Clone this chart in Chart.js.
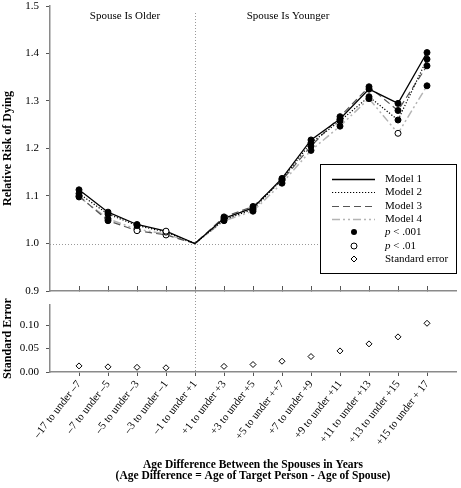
<!DOCTYPE html>
<html>
<head>
<meta charset="utf-8">
<script src="https://cdn.jsdelivr.net/npm/chart.js@4/dist/chart.umd.min.js"></script>
<style>
  body { margin: 0; background: #fff; }
  #wrap { position: relative; width: 461px; height: 488px; }
  canvas { position: absolute; left: 0; }
</style>
</head>
<body>
<div id="wrap">
  <canvas id="riskChart" width="461" height="298" style="top:0"></canvas>
  <canvas id="seChart" width="461" height="190" style="top:298px"></canvas>
</div>
<script>
const categories = ['–17 to under –7', '–7 to under –5', '–5 to under –3', '–3 to under –1',
    '–1 to under +1', '+1 to under +3', '+3 to under +5', '+5 to under ++7', '+7 to under +9',
    '+9 to under +11', '+11 to under +13', '+13 to under +15', '+15 to under + 17'];

// relative risk of dying, one array per model
const model1 = [1.113, 1.066, 1.040, 1.026, 1.000, 1.053, 1.075, 1.137, 1.218, 1.262, 1.325, 1.295, 1.402];
const model2 = [1.105, 1.062, 1.038, 1.024, 1.000, 1.050, 1.072, 1.135, 1.212, 1.258, 1.309, 1.260, 1.388];
const model3 = [1.100, 1.048, 1.027, 1.018, 1.000, 1.056, 1.078, 1.133, 1.205, 1.267, 1.330, 1.280, 1.374];
const model4 = [1.098, 1.052, 1.030, 1.020, 1.000, 1.048, 1.068, 1.127, 1.196, 1.247, 1.305, 1.232, 1.332];

// significance: 'a' = p < .001, 'b' = p < .01, null = reference category
const sig1 = ['a', 'a', 'a', 'b', null, 'a', 'a', 'a', 'a', 'a', 'a', 'a', 'a'];
const sig2 = ['a', 'a', 'a', 'b', null, 'a', 'a', 'a', 'a', 'a', 'a', 'a', 'a'];
const sig3 = ['a', 'a', 'b', 'b', null, 'a', 'a', 'a', 'a', 'a', 'a', 'a', 'a'];
const sig4 = ['a', 'a', 'b', 'b', null, 'a', 'a', 'a', 'a', 'a', 'a', 'b', 'a'];

// standard errors (Model 1)
const stdErr = [0.013, 0.011, 0.010, 0.009, null, 0.012, 0.016, 0.023, 0.033, 0.045, 0.060, 0.075, 0.104];

const riskTicks = [0.9, 1.0, 1.1, 1.2, 1.3, 1.4, 1.5];
const seTicks = [0.00, 0.05, 0.10];

Chart.defaults.font.family = "'Liberation Serif', 'DejaVu Serif', serif";
Chart.defaults.font.size = 11;
Chart.defaults.color = '#000';

const axisColor = '#8a8a8a';
const styles = [
    { label: 'Model 1', color: '#000', dash: [], width: 1.3 },
    { label: 'Model 2', color: '#000', dash: [1.2, 1.8], width: 1.2 },
    { label: 'Model 3', color: '#555', dash: [7, 4], width: 1.2 },
    { label: 'Model 4', color: '#b4b4b4', dash: [8, 3, 2, 3, 2, 3], width: 1.5 }
];

function points(vals) {
    return vals.map((v, i) => ({ x: i, y: v }));
}

function modelSet(vals, sig, st) {
    return {
        label: st.label,
        data: points(vals),
        borderColor: st.color,
        borderDash: st.dash,
        borderWidth: st.width,
        tension: 0,
        pointRadius: sig.map(s => s ? 3 : 0),
        pointBackgroundColor: sig.map(s => s === 'b' ? '#fff' : '#000'),
        pointBorderColor: '#000',
        pointBorderWidth: 1
    };
}

function xTicksOnly(scale) {
    scale.ticks = categories.map((c, i) => ({ value: i }));
}

// keep the plot area exactly where layout padding puts it
function noLabelPad(scale) {
    scale.paddingTop = 0;
    scale.paddingBottom = 0;
}

function dotted(ctx, x1, y1, x2, y2) {
    ctx.save();
    ctx.strokeStyle = '#999';
    ctx.lineWidth = 1;
    ctx.setLineDash([1, 2]);
    ctx.beginPath();
    ctx.moveTo(x1, y1);
    ctx.lineTo(x2, y2);
    ctx.stroke();
    ctx.restore();
}

const riskDecor = {
    id: 'riskDecor',
    beforeDatasetsDraw(chart) {
        const ctx = chart.ctx, a = chart.chartArea;
        const x = chart.scales.x, y = chart.scales.y;
        const y1 = Math.round(y.getPixelForValue(1)) + 0.5;
        const x4 = Math.round(x.getPixelForValue(4)) + 0.5;
        dotted(ctx, a.left, y1, a.right, y1);
        dotted(ctx, x4, 13, x4, chart.height);
    },
    afterDraw(chart) {
        const ctx = chart.ctx, a = chart.chartArea;
        ctx.save();
        ctx.fillStyle = '#000';
        ctx.font = "11px 'Liberation Serif'";
        ctx.textAlign = 'center';
        ctx.textBaseline = 'middle';
        ctx.fillText('Spouse Is Older', 125, 16);
        ctx.fillText('Spouse Is Younger', 288, 16);

        // legend box
        const bx = a.right - 136, by = 164, bw = 137, bh = 110;
        ctx.fillStyle = '#fff';
        ctx.fillRect(bx, by, bw, bh);
        ctx.strokeStyle = '#000';
        ctx.lineWidth = 1;
        ctx.strokeRect(bx + 0.5, by + 0.5, bw - 1, bh - 1);

        const rows = [179, 192, 206, 219, 232, 246, 259];
        const lx1 = bx + 12, lx2 = bx + 55, mx = bx + 34, tx = bx + 65;
        styles.forEach((st, i) => {
            ctx.save();
            ctx.strokeStyle = st.color;
            ctx.lineWidth = st.width;
            ctx.setLineDash(st.dash);
            ctx.beginPath();
            ctx.moveTo(lx1, rows[i] + 0.5);
            ctx.lineTo(lx2, rows[i] + 0.5);
            ctx.stroke();
            ctx.restore();
        });
        ctx.textAlign = 'left';
        ctx.fillStyle = '#000';
        styles.forEach((st, i) => ctx.fillText(st.label, tx, rows[i]));

        ctx.lineWidth = 1;
        ctx.beginPath();
        ctx.arc(mx, rows[4], 3, 0, Math.PI * 2);
        ctx.fillStyle = '#000';
        ctx.fill();
        ctx.beginPath();
        ctx.arc(mx, rows[5], 3, 0, Math.PI * 2);
        ctx.fillStyle = '#fff';
        ctx.fill();
        ctx.stroke();
        ctx.beginPath();
        ctx.moveTo(mx, rows[6] - 3);
        ctx.lineTo(mx + 3, rows[6]);
        ctx.lineTo(mx, rows[6] + 3);
        ctx.lineTo(mx - 3, rows[6]);
        ctx.closePath();
        ctx.fill();
        ctx.stroke();

        ctx.fillStyle = '#000';
        [[rows[4], ' < .001'], [rows[5], ' < .01']].forEach(r => {
            ctx.font = "italic 11px 'Liberation Serif'";
            ctx.fillText('p', tx, r[0]);
            const w = ctx.measureText('p').width;
            ctx.font = "11px 'Liberation Serif'";
            ctx.fillText(r[1], tx + w, r[0]);
        });
        ctx.fillText('Standard error', tx, rows[6]);
        ctx.restore();
    }
};

const seDecor = {
    id: 'seDecor',
    beforeDatasetsDraw(chart) {
        const a = chart.chartArea;
        const x4 = Math.round(chart.scales.x.getPixelForValue(4)) + 0.5;
        dotted(chart.ctx, x4, 0, x4, a.bottom);
    }
};

new Chart(document.getElementById('riskChart'), {
    type: 'line',
    data: {
        datasets: [
            modelSet(model1, sig1, styles[0]),
            modelSet(model2, sig2, styles[1]),
            modelSet(model3, sig3, styles[2]),
            modelSet(model4, sig4, styles[3])
        ]
    },
    options: {
        responsive: false,
        animation: false,
        layout: { padding: { top: 6, right: 3, left: 0, bottom: 0 } },
        plugins: { legend: { display: false }, tooltip: { enabled: false } },
        scales: {
            x: {
                type: 'linear',
                min: -1,
                max: 13,
                afterBuildTicks: xTicksOnly,
                afterFit: s => { s.height = 7; s.paddingLeft = 0; s.paddingRight = 0; },
                ticks: { display: false },
                grid: { drawOnChartArea: false, tickLength: -5, tickColor: '#555' },
                border: { color: axisColor, width: 1.5 }
            },
            y: {
                min: 0.9,
                max: 1.5,
                afterBuildTicks: s => { s.ticks = riskTicks.map(v => ({ value: v })); },
                afterFit: s => { s.width = 50; noLabelPad(s); },
                ticks: { padding: 7, callback: v => v.toFixed(1) },
                grid: { drawOnChartArea: false, tickLength: 4, tickColor: '#555' },
                border: { color: axisColor, width: 1.5 },
                title: {
                    display: true,
                    text: 'Relative Risk of Dying',
                    font: { size: 12, weight: 'bold' },
                    padding: { top: 1, bottom: 0 }
                }
            }
        }
    },
    plugins: [riskDecor]
});

new Chart(document.getElementById('seChart'), {
    type: 'line',
    data: {
        datasets: [{
            label: 'Standard error',
            data: points(stdErr),
            showLine: false,
            pointStyle: 'rectRot',
            pointRadius: 3,
            pointBackgroundColor: '#fff',
            pointBorderColor: '#000',
            pointBorderWidth: 1
        }]
    },
    options: {
        responsive: false,
        animation: false,
        layout: { padding: { top: 7, right: 3, left: 0, bottom: 0 } },
        plugins: { legend: { display: false }, tooltip: { enabled: false } },
        scales: {
            x: {
                type: 'linear',
                min: -1,
                max: 13,
                afterBuildTicks: xTicksOnly,
                afterFit: s => { s.height = 116; s.paddingLeft = 0; s.paddingRight = 0; },
                ticks: { autoSkip: false, minRotation: 52, maxRotation: 52, padding: 2, callback: v => categories[v] },
                grid: { drawOnChartArea: false, tickLength: 4, tickColor: '#555' },
                border: { color: axisColor, width: 1.5 },
                title: {
                    display: true,
                    text: ['Age Difference Between the Spouses in Years',
                        '(Age Difference = Age of Target Person - Age of Spouse)'],
                    font: { size: 11.5, weight: 'bold', lineHeight: 1 },
                    padding: { top: 0, bottom: 6 }
                }
            },
            y: {
                min: 0,
                max: 0.143,
                afterBuildTicks: s => { s.ticks = seTicks.map(v => ({ value: v })); },
                afterFit: s => { s.width = 50; noLabelPad(s); },
                ticks: { padding: 7, callback: v => v.toFixed(2) },
                grid: { drawOnChartArea: false, tickLength: 4, tickColor: '#555' },
                border: { color: axisColor, width: 1.5 },
                title: {
                    display: true,
                    text: 'Standard Error',
                    font: { size: 12, weight: 'bold' },
                    padding: { top: 1, bottom: 0 }
                }
            }
        }
    },
    plugins: [seDecor]
});
</script>
</body>
</html>
